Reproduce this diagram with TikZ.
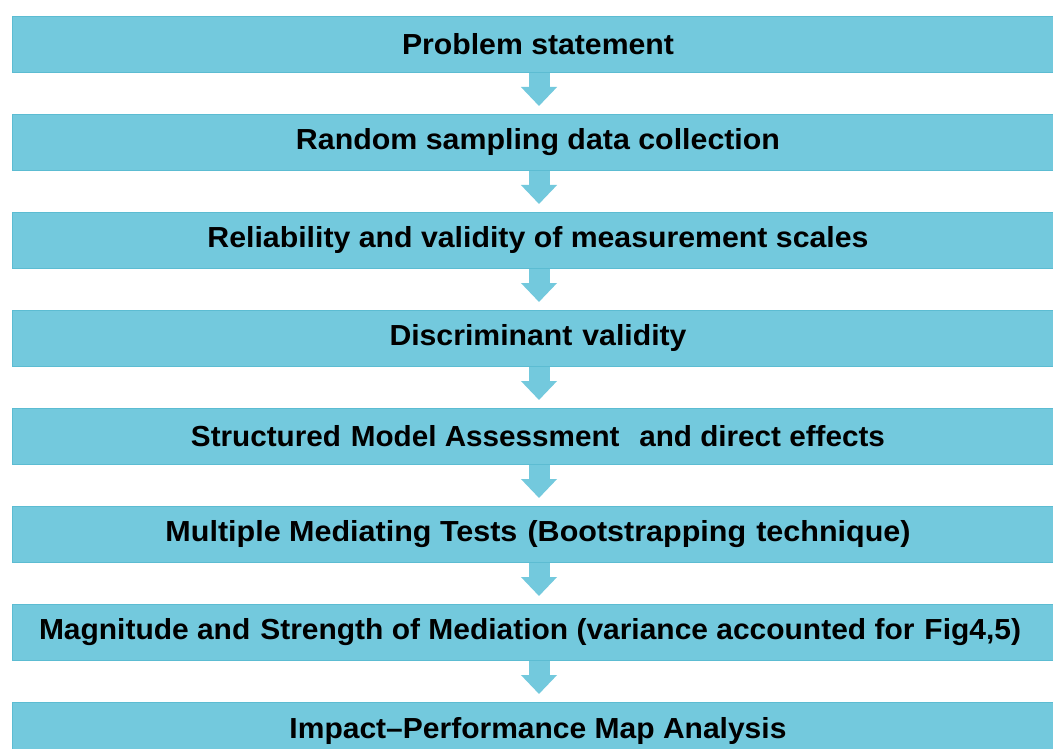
\documentclass[tikz,border=0pt]{standalone}
\usepackage{fontspec}
\setmainfont{Liberation Sans}
\usepackage{graphicx}
\usepackage{tikz}
\usetikzlibrary{arrows.meta,positioning}
\definecolor{stepFill}{RGB}{115, 201, 221}
\definecolor{stepEdge}{RGB}{92, 188, 210}
\newcommand{\fitw}[2]{\resizebox{#1}{\height}{#2}}

\begin{document}
\begin{tikzpicture}[x=1pt, y=-1pt,
  stepbox/.style={draw=stepEdge, line width=1pt, fill=stepFill,
    minimum width=1051pt, minimum height=56pt, inner sep=0pt,
    font=\fontsize{29}{34}\selectfont\bfseries},
  flowarrow/.style={draw=stepFill, line width=21pt,
    -{Triangle[width=35pt, length=19pt]}, shorten >=8pt},
  node distance=41pt]
  \clip (0,0) rectangle (1053,749);
  \fill[white] (0,0) rectangle (1053,749);

  % 1. steps
  \node[stepbox] (s1) at (538,44.5) {\fitw{272pt}{Problem statement}};
  \node[stepbox, below=of s1] (s2) {\fitw{484pt}{Random sampling data collection}};
  \node[stepbox, below=of s2] (s3) {\fitw{661pt}{Reliability and validity of measurement scales}};
  \node[stepbox, below=of s3] (s4) {\fitw{297pt}{Discriminant\,\,validity}};
  \node[stepbox, below=of s4] (s5) {\fitw{694pt}{Structured\,\,Model Assessment\,\,\,\,and direct effects}};
  \node[stepbox, below=of s5] (s6) {\fitw{745pt}{Multiple Mediating Tests\,\,(Bootstrapping\,\,technique)}};
  \node[stepbox, below=of s6] (s7) {\hspace*{-16pt}\fitw{982pt}{Magnitude and\,\,Strength of Mediation (variance accounted for\,\,Fig4,5)}};
  \node[stepbox, below=of s7] (s8) {\fitw{497pt}{Impact--Performance Map Analysis}};

  % 2. arrows
  \foreach \a/\b in {s1/s2, s2/s3, s3/s4, s4/s5, s5/s6, s6/s7, s7/s8}
    \draw[flowarrow] ([xshift=1pt]\a.south) -- ([xshift=1pt]\b.north);
\end{tikzpicture}
\end{document}
